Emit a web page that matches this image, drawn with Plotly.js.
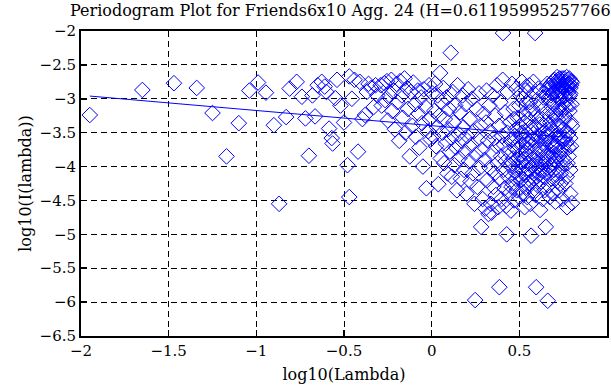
<!DOCTYPE html>
<html><head><meta charset="utf-8">
<script src="https://cdn.plot.ly/plotly-3.0.1.min.js"></script>
<style>html,body{margin:0;padding:0;background:#fff}#plot{width:611px;height:385px}</style>
</head><body><div id="plot"></div>
<script>
// log10(lambda) values (sparse low-frequency part and dense high-frequency part)
const logLambda = [
-1.95,-1.65,-1.47,-1.34,-1.25,-1.17,-1.10,-1.04,-0.99,-0.945,-0.90,-0.87,-0.83,-0.81,-0.77,-0.74,-0.72,-0.70,
-0.68,-0.665,-0.65,-0.627,-0.61,-0.60,-0.585,-0.57,-0.565,-0.55,-0.54,-0.52,-0.50,-0.48,-0.47,-0.47,-0.455,-0.44,-0.42,-0.41,-0.395,-0.38,-0.37,-0.36,-0.345,-0.33,-0.32,-0.31,
-0.29,-0.285,-0.27,-0.265,-0.255,-0.25,-0.24,-0.23,-0.225,-0.215,-0.21,-0.2,-0.195,-0.185,-0.18,-0.17,-0.165,-0.155,-0.15,-0.14,-0.135,-0.125,-0.12,-0.11,-0.105,-0.095,-0.09,-0.08,-0.075,-0.07,-0.06,-0.055,-0.05,-0.045,-0.035,-0.03,-0.02,-0.015,-0.01,-0.005,
0.003,0.008,0.015,0.02,0.025,0.03,0.034,0.038,0.043,0.048,0.052,0.057,0.062,0.066,0.071,0.075,0.08,0.085,0.09,0.094,0.099,0.104,0.109,0.113,0.115,0.12,0.125,0.13,0.134,0.139,0.144,0.148,0.153,0.158,0.162,0.167,0.171,0.176,0.18,0.185,0.19,0.194,0.199,0.203,0.208,0.212,0.217,0.222,0.226,0.231,0.235,0.24,0.244,0.248,0.252,0.257,0.261,0.266,0.27,0.274,0.279,0.282,0.287,0.291,0.296,
0.302,0.306,0.31,0.313,0.317,0.321,0.324,0.328,0.331,0.335,0.338,0.342,0.345,0.349,0.352,0.356,0.359,0.363,0.366,0.37,0.373,0.377,0.38,0.384,0.386,0.389,0.392,0.395,0.398,0.402,0.405,0.407,0.41,0.413,0.416,0.419,0.422,0.425,0.428,0.431,0.434,0.437,0.44,0.443,0.446,0.449,0.452,0.455,0.458,0.461,0.464,0.467,0.47,0.473,0.476,0.479,0.482,0.485,0.488,0.491,0.494,0.497,0.5,
0.503,0.505,0.508,0.51,0.513,0.515,0.518,0.52,0.523,0.525,0.528,0.53,0.532,0.535,0.537,0.54,0.542,0.545,0.547,0.55,0.552,0.554,0.557,0.559,0.562,0.564,0.567,0.569,0.571,0.574,0.576,0.578,0.581,0.583,0.585,0.588,0.59,0.592,0.594,0.596,0.598,0.601,0.603,0.605,0.607,0.609,0.612,0.614,0.616,0.618,0.62,0.622,0.625,0.627,0.629,0.631,0.633,0.635,0.637,0.64,0.642,0.644,0.646,0.648,0.651,0.653,0.655,0.657,0.659,0.662,
0.664,0.666,0.668,0.67,0.672,0.674,0.676,0.678,0.68,0.682,0.684,0.686,0.688,0.69,0.692,0.694,0.696,0.698,0.7,0.702,0.704,0.706,0.708,0.71,0.712,0.714,0.716,0.718,0.72,0.722,0.724,0.726,0.728,0.73,0.732,0.734,0.736,0.738,0.74,0.742,0.744,0.746,0.748,0.75,0.752,0.754,0.756,0.758,0.76,0.762,0.764,0.766,0.768,0.77,0.772,0.774,0.776,0.778,0.78,0.782,0.784,0.786,0.788,0.79,0.792,0.794,0.796,0.798,0.8,
0.69,0.705,0.715,0.725,0.735,0.745,0.755,0.765,0.775,0.785,0.795,0.7,0.72,0.74,0.76,0.78,0.71,0.73,0.75,0.77,0.79,
0.45,0.46,0.47,0.48,0.49,0.5,0.51,0.52,0.53,0.54,0.55,0.56,0.57,0.58,0.59,0.6,0.61,0.62,0.63,0.64,0.65,0.66,0.67,0.68,0.69,0.7,0.71,0.72,0.73,0.74,0.75,0.76,0.77,0.78,0.79,0.8,
0.455,0.475,0.495,0.515,0.535,0.555,0.575,0.595,0.615,0.635,0.655,0.675,0.695,0.715,0.735,0.755,0.775,0.795,
0.70,0.71,0.72,0.73,0.74,0.75,0.76,0.77,0.78,0.79,0.8,0.68,0.66,0.64,0.62,0.6,0.58,0.56,0.54,0.52
];
// log10(I(lambda)) values
const logPower = [
-3.24,-2.87,-2.77,-2.84,-3.21,-3.85,-3.36,-2.88,-2.76,-2.91,-3.39,-4.55,-3.27,-2.85,-2.75,-2.97,-3.29,-3.84,
-2.95,-3.26,-2.80,-2.75,-2.82,-2.90,-3.44,-3.58,-3.66,-2.99,-2.72,-3.10,-3.35,-3.98,-2.67,-4.45,-3.00,-2.72,-3.78,-2.75,-3.30,-3.24,-2.90,-2.78,-2.84,-3.12,-2.80,-2.95,
-2.80,-3.10,-2.77,-3.02,-2.74,-3.32,-2.95,-2.72,-3.18,-2.88,-3.45,-2.78,-3.05,-3.62,-2.74,-2.95,-3.28,-2.70,-3.50,-2.84,-3.15,-3.85,-2.90,-3.40,-2.76,-3.08,-3.56,-2.88,-3.22,-3.72,-2.98,-3.36,-4.00,-2.86,-3.12,-4.32,-3.48,-2.80,-3.30,-3.60,
-2.92,-3.55,-3.18,-2.78,-3.70,-3.42,-2.95,-4.26,-3.25,-2.62,-3.88,-3.05,-3.50,-2.84,-3.95,-3.30,-3.66,-2.98,-4.10,-3.45,-3.15,-3.78,-2.32,-3.58,-4.15,-2.90,-3.35,-3.98,-3.10,-3.72,-4.35,-2.80,-3.52,-3.88,-3.20,-4.18,-3.62,-2.95,-3.42,-4.05,-3.78,-3.08,-4.40,-3.55,-2.86,-3.92,-3.30,-4.22,-3.68,-3.00,-4.10,-3.48,-4.55,-5.97,-3.82,-3.15,-4.30,-3.60,-2.92,-4.02,-3.40,-4.89,-3.75,-4.48,-3.22,
-3.90,-4.62,-3.35,-2.88,-4.20,-3.62,-4.70,-3.10,-4.02,-3.48,-4.55,-4.68,-3.80,-2.95,-4.30,-3.58,-4.10,-3.25,-4.42,-3.70,-2.80,-3.95,-4.60,-3.40,-5.78,-4.18,-3.05,-3.85,-4.48,-3.55,-2.72,-2.03,-4.05,-3.68,-4.32,-3.20,-3.92,-4.58,-5.00,-3.50,-2.90,-4.15,-3.78,-4.40,-3.35,-3.98,-4.65,-3.60,-2.78,-4.25,-3.88,-3.15,-4.50,-3.72,-4.08,-3.45,-2.85,-4.35,-3.90,-3.28,-4.12,-3.65,-4.45,
-3.40,-2.95,-3.82,-4.20,-3.55,-2.75,-4.02,-3.68,-4.38,-3.22,-3.90,-4.60,-3.48,-2.88,-4.12,-3.75,-3.05,-4.45,-3.60,-3.95,-3.30,-4.25,-2.80,-3.85,-4.55,-3.42,-5.02,-3.70,-4.08,-3.15,-3.98,-4.35,-3.52,-2.92,-4.18,-3.78,-2.03,-4.42,-3.62,-5.78,-3.25,-4.00,-3.88,-4.28,-3.45,-2.85,-4.12,-3.70,-3.38,-4.64,-3.92,-3.10,-4.22,-3.58,-4.05,-3.30,-4.48,-3.80,-2.98,-4.15,-3.65,-4.35,-3.48,-3.95,-4.89,-3.20,-4.10,-3.72,-2.78,-5.98,
-3.55,-4.28,-3.02,-3.88,-2.85,-4.45,-3.35,-3.98,-2.78,-3.62,-4.18,-3.12,-2.92,-4.38,-3.48,-2.74,-3.80,-4.05,-3.05,-2.88,-3.70,-4.52,-3.25,-2.80,-3.92,-2.95,-4.22,-3.40,-2.72,-3.15,-3.85,-2.86,-4.35,-3.00,-3.58,-2.78,-4.10,-3.20,-2.92,-3.75,-2.70,-4.48,-3.08,-3.45,-2.82,-3.95,-2.97,-3.30,-2.75,-4.25,-3.12,-2.88,-3.65,-2.80,-4.60,-3.02,-2.72,-3.52,-2.90,-3.85,-2.78,-3.18,-2.95,-4.40,-2.84,-3.35,-2.74,-3.08,-4.54,
-2.80,-2.76,-2.68,-2.74,-2.88,-2.82,-2.70,-2.76,-2.84,-2.70,-2.80,-3.22,-3.30,-3.15,-3.25,-3.10,-3.55,-3.40,-3.62,-3.48,-3.58,
-3.62,-3.95,-3.30,-4.18,-3.75,-3.10,-3.92,-4.10,-3.35,-4.30,-3.65,-3.20,-4.22,-3.88,-3.40,-4.15,-3.55,-3.75,-3.95,-3.40,-3.60,-3.85,-4.05,-3.45,-3.68,-3.90,-4.12,-3.52,-3.78,-4.02,-3.88,-3.58,-4.15,-3.72,-4.05,-3.40,
-4.30,-3.55,-4.00,-3.50,-3.80,-4.05,-3.60,-3.95,-4.05,-3.50,-3.92,-3.25,-3.95,-3.70,-4.25,-3.75,-3.95,-3.70,
-2.72,-2.90,-2.98,-2.70,-3.00,-2.78,-2.95,-2.68,-2.80,-2.92,-2.76,-2.95,-2.85,-2.92,-2.88,-3.02,-2.75,-3.05,-2.82,-3.00
];
// fitted regression line end points
const fitX = [-1.95, 0.8];
const fitY = [-2.96, -3.576];
const xTicks = [-2, -1.5, -1, -0.5, 0, 0.5, 1];
const yTicks = [-2, -2.5, -3, -3.5, -4, -4.5, -5, -5.5, -6, -6.5];
const titleText = 'Periodogram Plot for Friends6x10 Agg. 24 (H=0.611959952577666)';

const fam = '"DejaVu Serif", "Liberation Serif", serif';
const tickFont = {family: fam, color: '#000', size: 15};
const titleFont = {family: fam, color: '#000', size: 16};
const axisCommon = {
  showline: true, linecolor: '#000', linewidth: 2, mirror: 'allticks',
  ticks: 'inside', ticklen: 6, tickwidth: 1.5, tickcolor: '#000',
  showgrid: true, gridcolor: '#000', gridwidth: 1, griddash: '6px,4px',
  zeroline: false, tickfont: tickFont
};
const data = [
  {x: logLambda, y: logPower, type: 'scatter', mode: 'markers',
   marker: {symbol: 'diamond-open', size: 12, color: '#0000ff', line: {width: 1, color: '#0000ff'}},
   hoverinfo: 'none'},
  {x: fitX, y: fitY, type: 'scatter', mode: 'lines', line: {color: '#0000ff', width: 1}, hoverinfo: 'none'}
];
const layout = {
  width: 611, height: 385, showlegend: false,
  paper_bgcolor: '#fff', plot_bgcolor: '#fff',
  margin: {l: 81, r: 4, t: 31, b: 49},
  font: tickFont,
  title: {text: titleText, font: titleFont,
          xref: 'container', x: 70/611, xanchor: 'left', yref: 'container', y: 1 - 10/385, yanchor: 'middle'},
  xaxis: Object.assign({}, axisCommon, {range: [-2, 1], tickvals: xTicks, ticktext: xTicks.map(v => String(v).replace('-', '\u2212')),
    title: {text: 'log10(Lambda)', font: titleFont, standoff: 10}}),
  yaxis: Object.assign({}, axisCommon, {range: [-6.5, -2], tickvals: yTicks, ticktext: yTicks.map(v => String(v).replace('-', '\u2212')),
    title: {text: 'log10(I(lambda))', font: titleFont, standoff: 4}})
};
Plotly.newPlot('plot', data, layout, {staticPlot: true});
</script></body></html>
